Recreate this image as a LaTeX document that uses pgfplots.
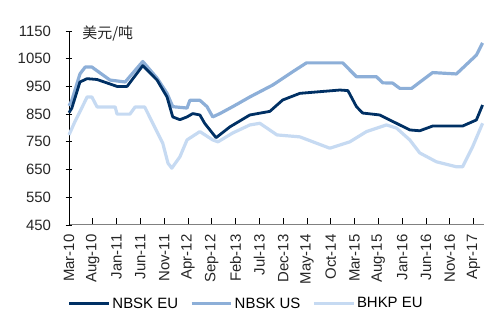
\documentclass[border=0pt]{standalone}
\usepackage{pgfplots}
\pgfplotsset{compat=1.18}
\usepackage{fontspec}
\setmainfont{Liberation Sans}
\newfontfamily\cjk{Noto Sans CJK SC}
\usetikzlibrary{calc}
\definecolor{euc}{RGB}{0,48,100}
\definecolor{usc}{RGB}{141,175,216}
\definecolor{bhc}{RGB}{198,218,242}
\begin{document}
\begin{tikzpicture}
\begin{axis}[name=ax,
  scale only axis, width=415bp, height=194bp,
  xmin=0, xmax=87.2, ymin=450, ymax=1150,
  axis lines*=left,
  x axis line style={-,gray,line width=1pt},
  y axis line style={-,black,line width=0.8pt},
  xtick={0,5,...,85},
  xticklabels={Mar-10,Aug-10,Jan-11,Jun-11,Nov-11,Apr-12,Sep-12,Feb-13,Jul-13,Dec-13,May-14,Oct-14,Mar-15,Aug-15,Jan-16,Jun-16,Nov-16,Apr-17},
  ytick={450,550,...,1150},
  xtick align=inside, ytick align=center,
  major tick length=7bp,
  tick style={black,line width=0.8pt},
  /pgf/number format/assume math mode=true,
  /pgf/number format/1000 sep={},
  every tick label/.append style={font=\fontsize{15}{17}\selectfont, text=black!85},
  xticklabel style={rotate=90, anchor=east},
  xticklabel shift=6bp, yticklabel shift=11bp,
  legend columns=3,
  legend style={draw=none, at={(0.427,-0.405)}, anchor=center, font=\fontsize{15}{17}\selectfont, /tikz/every even column/.append style={column sep=10bp}},
  legend image code/.code={\draw[#1] (0cm,0cm) -- (1.4cm,0cm);},
  clip=false,
]
\addlegendimage{euc,line width=3bp}\addlegendentry{NBSK EU}
\addlegendimage{usc,line width=3bp}\addlegendentry{NBSK US}
\addlegendimage{bhc,line width=3bp}\addlegendentry{BHKP EU}
% BHKP EU
\addplot[forget plot, bhc, line width=3.2bp, line join=round] coordinates {
(0,775) (1.3,825) (2.9,880) (3.8,912) (4.8,912) (5.9,876) (9.7,876) (10.1,850) (12.8,850) (13.9,876) (15.9,876) (17.6,817) (19.7,745) (20.8,673) (21.6,655) (23.3,696) (24.8,757) (27.5,787) (30.2,757) (31.3,750) (34.4,782) (38.0,811) (40.1,817) (43.7,775) (48.5,768) (54.8,727) (59.0,750) (62.5,787) (66.7,811) (68.8,800) (71.6,757) (73.7,710) (77.2,678) (81.4,660) (82.7,660) (84.8,732) (86.9,817)
};
% NBSK US
\addplot[forget plot, usc, line width=3.2bp, line join=round] coordinates {
(0,880) (0.6,900) (2.3,995) (3.4,1020) (4.8,1020) (8.6,973) (11.8,966) (15.5,1040) (18.5,980) (20.6,925) (21.8,877) (24.8,872) (25.4,900) (27.5,900) (29.0,877) (30.2,840) (31.7,852) (34.4,877) (38.0,912) (42.8,955) (47.0,1003) (49.9,1035) (57.5,1035) (60.4,985) (64.6,985) (65.9,963) (68.0,962) (69.5,943) (72.0,943) (74.3,973) (76.4,1000) (81.4,995) (82.7,1016) (85.6,1063) (86.9,1107)
};
% NBSK EU
\addplot[forget plot, euc, line width=2.8bp, line join=round] coordinates {
(0,855) (0.6,872) (2.3,966) (3.8,978) (5.9,975) (10.1,950) (12.2,950) (15.5,1025) (18.5,973) (20.6,912) (21.8,840) (23.3,830) (24.8,840) (26.0,852) (27.5,847) (28.5,817) (30.9,765) (33.8,804) (38.0,847) (42.2,860) (44.9,901) (48.5,925) (56.9,937) (58.6,935) (60.4,877) (61.7,854) (65.3,847) (69.5,811) (71.6,793) (73.7,790) (76.4,807) (82.7,807) (85.6,829) (86.9,883)
};
\node[anchor=west, font=\fontsize{15}{17}\selectfont\cjk, text=black!85] at (rel axis cs:0.024,0.987) {美元/吨};
\end{axis}
\path ($(ax.south west)+(-69bp,-110bp)$) rectangle ($(ax.north east)+(16bp,31bp)$);
\end{tikzpicture}
\end{document}
